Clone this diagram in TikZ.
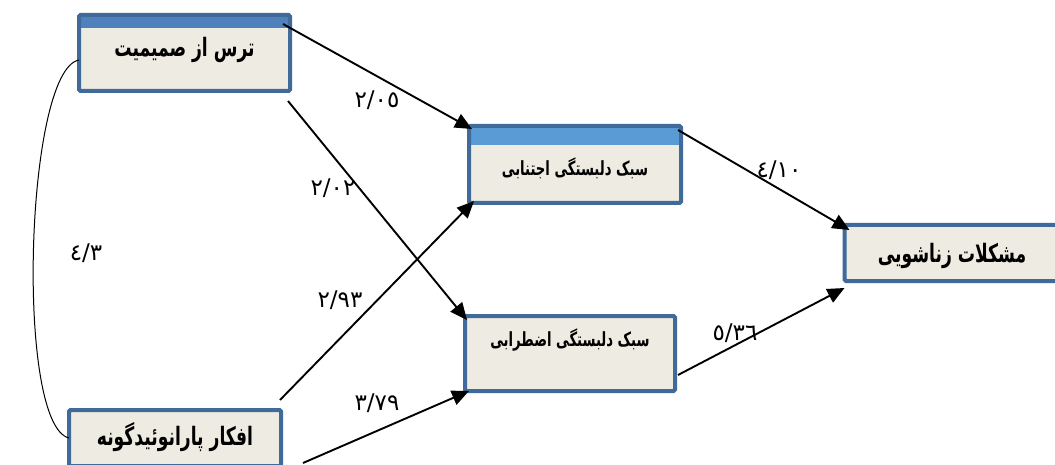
\documentclass[tikz,border=0pt]{standalone}
\usepackage{fontspec}
\usepackage{graphicx}
\TeXXeTstate=1
\newfontfamily\arabicfont[Script=Arabic]{DejaVu Sans}
\usetikzlibrary{arrows.meta}
\definecolor{boxline}{HTML}{3F6A9A}
\definecolor{boxfill}{HTML}{EEECE2}
\definecolor{barA}{HTML}{4F81BD}
\definecolor{barB}{HTML}{5B9BD5}
% narrower, taller setting of the box titles
\newcommand{\fatxt}[1]{\scalebox{0.88}[1.3]{#1}}
\tikzset{
  box/.style={draw=boxline, line width=4pt, fill=boxfill, rounded corners=1.5pt,
    inner sep=0pt, outer sep=0pt},
  topbar/.style 2 args={path picture={\fill[#1]
      (path picture bounding box.north west) rectangle
      ([yshift=-#2]path picture bounding box.north east);}},
  boxtxt/.style={font=\arabicfont\bfseries\fontsize{15}{17}\selectfont, text=black},
  bigtxt/.style={font=\arabicfont\bfseries\fontsize{19.5}{22}\selectfont, text=black},
  coef/.style={font=\arabicfont\fontsize{23}{25}\selectfont, text=black, inner sep=0pt},
  link/.style={line width=1.9pt, -{Triangle[length=17pt,width=15pt]}},
}
\begin{document}
\begin{tikzpicture}[x=1pt,y=-1pt]
\useasboundingbox (0,0) rectangle (1055,465);

% boxes
\node[box, topbar={barA}{13pt}, minimum width=211pt, minimum height=76pt,
  label={[bigtxt, yshift=3pt]center:\fatxt{\beginR ترس از صمیمیت\endR}}]
  (fear) at (184.5,53) {};
\node[box, topbar={barB}{19pt}, minimum width=212pt, minimum height=77pt,
  label={[boxtxt, yshift=-3.5pt]center:\fatxt{\beginR سبک دلبستگی اجتنابی\endR}}]
  (avoid) at (575,164.5) {};
\node[box, minimum width=210pt, minimum height=75pt,
  label={[boxtxt, yshift=13.5pt]center:\fatxt{\beginR سبک دلبستگی اضطرابی\endR}}]
  (anx) at (570,353.5) {};
\node[box, minimum width=215pt, minimum height=56pt,
  label={[bigtxt, yshift=-3pt]center:\fatxt{\beginR مشکلات زناشویی\endR}}]
  (marital) at (952,253) {};
\node[box, minimum width=212pt, minimum height=56pt,
  label={[bigtxt, yshift=1pt]center:\fatxt{\beginR افکار پارانوئیدگونه\endR}}]
  (para) at (175,438) {};

% correlation between the two predictors
\draw[line width=1pt] ([yshift=-7pt]fear.west)
  .. controls (25,70) and (15,425) .. (para.west);

% paths
\draw[link] ([xshift=-7pt,yshift=-9pt]fear.north east) -- ([xshift=3pt,yshift=-3pt]avoid.north west);
\draw[link] ([xshift=-2pt,yshift=-10pt]fear.south east) -- ([xshift=2pt,yshift=-4pt]anx.north west);
\draw[link] ([xshift=-1pt,yshift=10pt]para.north east) -- ([xshift=5pt,yshift=2pt]avoid.south west);
\draw[link] ([xshift=22pt,yshift=3pt]para.south east) -- ([xshift=4pt]anx.south west);
\draw[link] ([xshift=-3pt,yshift=-4pt]avoid.north east) -- ([xshift=5pt,yshift=-5pt]marital.north west);
\draw[link] ([xshift=3pt,yshift=16pt]anx.south east) -- ([yshift=-7pt]marital.south west);

% coefficients
\node[coef] (c1) at (377,100) {٢/٠٥};
\node[coef] (c2) at (333,188) {٢/٠٢};
\node[coef] (c3) at (340,300) {٢/٩٣};
\node[coef] (c4) at (377,403) {٣/٧٩};
\node[coef] (c5) at (779,170) {٤/١٠};
\node[coef] (c6) at (735,333) {٥/٣٦};
\node[coef] (c7) at (86,253) {٤/٣};
\end{tikzpicture}
\end{document}
